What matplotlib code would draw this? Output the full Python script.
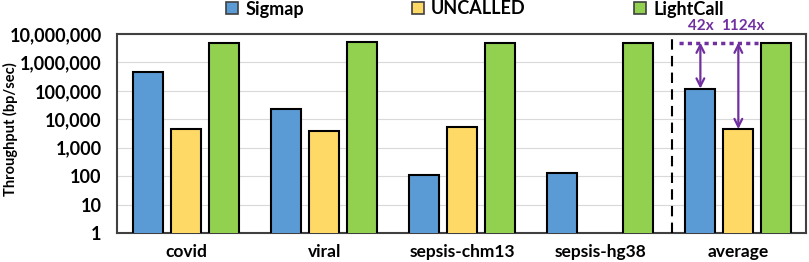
import matplotlib
matplotlib.use("Agg")
import matplotlib.pyplot as plt
import numpy as np
from matplotlib.patches import Patch
from matplotlib.ticker import FixedLocator, NullLocator

plt.rcParams['font.family'] = ['Lato', 'DejaVu Sans']
plt.rcParams['font.weight'] = 'bold'

categories = ["covid", "viral", "sepsis-chm13", "sepsis-hg38", "average"]
series = ["Sigmap", "UNCALLED", "LightCall"]
sigmap = [470000, 23000, 110, 130, 120000]
uncalled = [4500, 3900, 5500, np.nan, 4500]
lightcall = [5000000, 5200000, 5000000, 5000000, 5000000]
colors = ["#5B9BD5", "#FFD966", "#92D050"]
yticks = [1, 10, 100, 1000, 10000, 100000, 1000000, 10000000]
ytick_labels = ["1", "10", "100", "1,000", "10,000", "100,000", "1,000,000", "10,000,000"]
ratio_labels = ["42x", "1124x"]

fig = plt.figure(figsize=(8.09, 2.62), dpi=100)
ax = fig.add_axes([117 / 809, 1 - 233 / 262, 689 / 809, 199 / 262])

x = np.arange(len(categories))
w = 0.217
off = 0.275
for i, (vals, c) in enumerate(zip([sigmap, uncalled, lightcall], colors)):
    v = np.array(vals, dtype=float)
    mask = ~np.isnan(v)
    ax.bar(x[mask] + (i - 1) * off, v[mask], width=w, color=c, edgecolor="black",
           linewidth=1.5, zorder=3)

ax.set_yscale("log")
ax.set_ylim(1, 10000000)
ax.set_xlim(-0.5, 4.49)
ax.yaxis.set_major_locator(FixedLocator(yticks))
ax.yaxis.set_minor_locator(NullLocator())
ax.set_yticks(yticks)
ax.set_yticklabels(ytick_labels, fontsize=13, fontweight="bold")
ax.set_xticks(x)
ax.set_xticklabels(categories, fontsize=12.5, fontweight="bold")
ax.tick_params(axis="x", length=0, pad=8)
ax.tick_params(axis="y", length=0, pad=11)
ax.grid(axis="y", color="#D9D9D9", linewidth=0.8, zorder=0)
ax.set_ylabel("Throughput (bp/sec)", fontsize=10.5, fontweight="bold")
ax.yaxis.set_label_coords(-0.143, 0.52)
for s in ax.spines.values():
    s.set_color("#404040")
    s.set_linewidth(1.5)

ax.axvline(3.52, color="black", linestyle=(0, (5, 3)), linewidth=1.5, zorder=4)

purple = "#7030A0"
top = lightcall[4]
ax.plot([3.57, 4.14], [top, top], color=purple, linestyle=(0, (1.2, 1.2)), linewidth=2.5, zorder=5)
text_x = [3.73, 4.03]
for j, vals in enumerate([sigmap, uncalled]):
    xx = 4 + (j - 1) * off
    ax.annotate("", xy=(xx, vals[4]), xytext=(xx, top),
                arrowprops=dict(arrowstyle="<->", color=purple, lw=1.6,
                                mutation_scale=14, shrinkA=0, shrinkB=0), zorder=6)
    ax.text(text_x[j], 10800000, ratio_labels[j], color=purple, fontsize=11,
            fontweight="bold", ha="center", va="bottom")

handles = [Patch(facecolor=c, edgecolor="#404040", linewidth=1.2) for c in colors]
fig.legend(handles, series, loc="center", bbox_to_anchor=(0.587, 1 - 9 / 262), ncol=3,
           frameon=False, columnspacing=6.0, handlelength=0.65,
           handleheight=0.65, handletextpad=0.4, borderpad=0.1,
           prop={"weight": "bold", "size": 13})

fig.savefig("out.png", dpi=100)
